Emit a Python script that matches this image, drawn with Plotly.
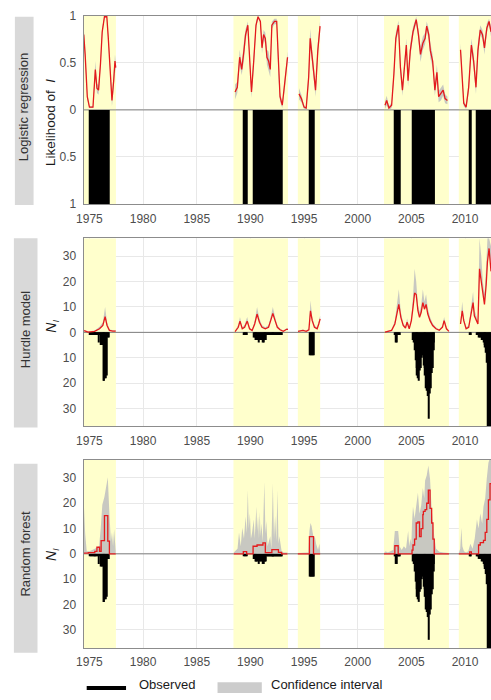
import plotly.graph_objects as go

# ---------------- data ----------------
period_start = [1974.0, 1988.42, 1994.42, 2002.45, 2009.42]
period_end = [1977.47, 1993.5, 1996.5, 2008.5, 2013.0]

# observed monthly counts, given as runs of consecutive months
obs_run_start = ["1975-01", "1989-05", "1990-04", "1995-07", "2003-06", "2005-02", "2010-06", "2011-02"]
obs_run_counts = [
    [1, 1, 1, 1, 1, 1, 1, 1, 1, 1, 4, 1, 5, 5, 5, 19, 19, 18, 18, 17, 2, 2],
    [1, 1, 1, 1],
    [2, 2, 3, 3, 3, 3, 4, 3, 3, 3, 4, 4, 3, 3, 3, 1, 1, 1, 1, 1, 1, 1, 1, 1, 1, 1, 1, 1, 1, 1, 1, 1],
    [9, 9, 9, 9, 9],
    [1, 4, 4, 1, 1, 1],
    [3, 4, 7, 11, 14, 17, 18, 19, 15, 14, 10, 9, 13, 14, 17, 22, 23, 25, 34, 24, 22, 16, 14, 7, 4],
    [1, 1],
    [1, 1, 2, 2, 2, 3, 3, 4, 5, 6, 8, 12, 40, 45, 38, 42, 40],
]

# logistic regression: likelihood of incidence and CI half-width
lr_t = [1974.47, 1974.6, 1974.8, 1975.0, 1975.33, 1975.48, 1975.55, 1975.7, 1975.85, 1976.03, 1976.19, 1976.4,
        1976.62, 1976.76, 1976.95, 1977.1, 1977.26, 1977.38, 1977.45,
        1988.57, 1988.78, 1989.0, 1989.19, 1989.4, 1989.55, 1989.76, 1989.92, 1990.1, 1990.31, 1990.52, 1990.71,
        1990.93, 1991.08, 1991.23, 1991.39, 1991.54, 1991.69, 1991.85, 1992.0, 1992.24, 1992.45, 1992.61, 1992.76,
        1992.97, 1993.22, 1993.46,
        1994.53, 1994.75, 1995.0, 1995.2, 1995.43, 1995.57, 1995.73, 1995.88, 1996.07, 1996.28, 1996.49,
        2002.54, 2002.7, 2002.91, 2003.16, 2003.37, 2003.55, 2003.8, 2003.98, 2004.17, 2004.38, 2004.53, 2004.69,
        2004.9, 2005.15, 2005.45, 2005.66, 2005.85, 2006.07, 2006.28, 2006.43, 2006.62, 2006.77, 2006.98, 2007.19,
        2007.38, 2007.54, 2007.75, 2007.96, 2008.14, 2008.36,
        2009.58, 2009.74, 2009.88, 2010.1, 2010.34, 2010.59, 2010.8, 2011.02, 2011.2, 2011.42, 2011.63, 2011.81,
        2012.03, 2012.24, 2012.42]
lr_p = [0.80, 0.59, 0.14, 0.03, 0.03, 0.24, 0.43, 0.23, 0.21, 0.49, 0.83, 0.99, 0.99, 0.76, 0.38, 0.10, 0.31, 0.52, 0.45,
        0.19, 0.24, 0.56, 0.43, 0.63, 0.80, 0.90, 0.59, 0.19, 0.52, 0.90, 0.99, 0.94, 0.66, 0.80, 0.76, 0.56, 0.52,
        0.43, 0.90, 0.94, 0.94, 0.42, 0.14, 0.05, 0.31, 0.56,
        0.17, 0.12, 0.03, 0.02, 0.35, 0.76, 0.59, 0.42, 0.21, 0.63, 0.89,
        0.05, 0.10, 0.02, 0.05, 0.38, 0.76, 0.90, 0.45, 0.21, 0.52, 0.69, 0.31, 0.63, 0.83, 0.96, 0.80, 0.59, 0.71,
        0.76, 0.89, 0.80, 0.63, 0.52, 0.21, 0.40, 0.14, 0.17, 0.21, 0.12, 0.10,
        0.64, 0.35, 0.07, 0.03, 0.24, 0.69, 0.52, 0.24, 0.63, 0.85, 0.80, 0.66, 0.87, 0.94, 0.83]
lr_ci = [0.08, 0.06, 0.03, 0.01, 0.01, 0.05, 0.09, 0.05, 0.05, 0.05, 0.04, 0.01, 0.01, 0.04, 0.05, 0.06, 0.08, 0.07, 0.06,
         0.08, 0.06, 0.08, 0.06, 0.10, 0.06, 0.04, 0.06, 0.06, 0.08, 0.04, 0.01, 0.02, 0.06, 0.05, 0.06, 0.08, 0.10,
         0.08, 0.04, 0.03, 0.03, 0.06, 0.05, 0.03, 0.08, 0.06,
         0.06, 0.04, 0.02, 0.01, 0.08, 0.10, 0.08, 0.06, 0.07, 0.08, 0.05,
         0.04, 0.05, 0.02, 0.03, 0.06, 0.06, 0.05, 0.07, 0.06, 0.07, 0.07, 0.06, 0.07, 0.05, 0.03, 0.06, 0.08, 0.07,
         0.06, 0.05, 0.06, 0.08, 0.07, 0.06, 0.08, 0.06, 0.07, 0.06, 0.05, 0.04,
         0.07, 0.06, 0.03, 0.02, 0.06, 0.07, 0.08, 0.07, 0.08, 0.05, 0.05, 0.07, 0.05, 0.03, 0.05]

# hurdle model: predicted N and upper confidence bound
hd_t = [1974.5, 1974.87, 1975.48, 1975.94, 1976.25, 1976.46, 1976.64, 1976.86, 1977.17, 1977.45,
        1988.57, 1988.87, 1989.03, 1989.24, 1989.46, 1989.7, 1989.92, 1990.16, 1990.4, 1990.62, 1990.84, 1991.08,
        1991.39, 1991.69, 1991.94, 1992.09, 1992.3, 1992.51, 1992.76, 1993.07, 1993.37, 1993.5,
        1994.44, 1994.9, 1995.2, 1995.45, 1995.6, 1995.76, 1995.97, 1996.22, 1996.37, 1996.5,
        2002.54, 2003.16, 2003.46, 2003.68, 2003.83, 2004.02, 2004.24, 2004.45, 2004.6, 2004.8, 2005.0, 2005.15,
        2005.3, 2005.45, 2005.61, 2005.76, 2005.91, 2006.07, 2006.22, 2006.37, 2006.53, 2006.74, 2006.98, 2007.29,
        2007.6, 2007.9, 2008.05, 2008.27, 2008.5,
        2009.58, 2009.74, 2009.88, 2010.1, 2010.34, 2010.56, 2010.75, 2010.87, 2011.05, 2011.2, 2011.35, 2011.51,
        2011.66, 2011.81, 2011.97, 2012.09, 2012.24, 2012.42]
hd_n = [0.7, 0.1, 0.4, 1.4, 2.7, 6.2, 2.7, 0.8, 0.5, 0.5,
        0.3, 2.0, 4.4, 1.4, 2.0, 4.4, 1.4, 0.7, 3.3, 7.2, 4.0, 2.0, 1.4, 2.0, 5.3, 7.4, 4.6, 2.0, 1.0, 0.4, 1.2, 1.2,
        0.4, 0.8, 0.4, 1.0, 8.5, 4.6, 2.0, 1.4, 3.3, 5.3,
        0.1, 0.8, 3.3, 8.5, 11.0, 5.9, 2.7, 1.7, 4.0, 1.4, 4.6, 9.7, 15.5, 14.9, 8.5, 5.9, 7.8, 11.7, 9.1, 11.0,
        7.2, 4.6, 2.7, 1.4, 0.8, 2.0, 4.6, 1.4, 0.4,
        3.3, 8.5, 4.6, 1.4, 2.0, 7.8, 11.7, 6.5, 4.6, 3.3, 25.0, 20.0, 14.9, 11.0, 18.7, 27.7, 33.0, 24.0]
hd_hi = [1.0, 0.3, 0.7, 2.2, 4.0, 10.0, 4.0, 1.2, 0.8, 0.8,
         0.5, 3.0, 6.0, 2.0, 3.0, 6.0, 2.0, 1.0, 4.5, 10.0, 5.5, 2.8, 2.0, 2.8, 7.0, 10.0, 6.0, 2.8, 1.5, 0.6, 1.6, 1.6,
         0.6, 1.1, 0.6, 1.5, 12.5, 6.0, 2.8, 2.0, 4.5, 6.5,
         0.2, 1.1, 4.5, 12.0, 17.0, 8.0, 3.6, 2.3, 5.5, 2.0, 6.0, 14.0, 25.0, 20.0, 11.0, 8.0, 10.5, 17.0, 12.0, 15.0,
         9.5, 6.0, 3.6, 2.0, 1.1, 2.8, 6.0, 2.0, 0.6,
         4.5, 12.0, 6.0, 2.0, 2.8, 10.5, 16.0, 9.0, 6.0, 4.5, 37.0, 30.0, 20.0, 15.0, 26.0, 37.0, 37.0, 34.0]

# random forest: predicted N (step) and upper confidence bound
rf_t = [1974.47, 1974.9, 1975.5, 1975.7, 1975.94, 1976.09, 1976.4, 1976.71, 1976.86, 1977.45,
        1988.45, 1989.34, 1989.65, 1990.25, 1990.62, 1991.17, 1991.39, 1991.69, 1992.0, 1992.61, 1992.91, 1993.45,
        1994.42, 1995.5, 1995.88, 1996.5,
        2002.45, 2003.46, 2003.77, 2005.06, 2005.15, 2005.3, 2005.45, 2005.61, 2005.76, 2005.91, 2006.07, 2006.12,
        2006.28, 2006.43, 2006.58, 2006.74, 2006.89, 2007.01, 2007.13, 2008.5,
        2009.42, 2010.43, 2010.59, 2011.11, 2011.26, 2011.42, 2011.72, 2011.88, 2012.03, 2012.18, 2012.33, 2012.42]
rf_n = [0.3, 0.5, 1.0, 2.6, 1.0, 5.2, 15.1, 5.0, 0.0, 0.0,
        0.0, 0.9, 0.0, 3.0, 3.5, 4.3, 0.5, 0.5, 1.7, 0.6, 0.0, 0.0,
        0.0, 6.8, 0.0, 0.0,
        0.0, 3.2, 0.0, 1.5, 3.5, 5.8, 12.2, 12.6, 6.8, 10.0, 15.5, 16.8, 17.5, 20.0, 25.2, 18.0, 12.2, 5.8, 0.0, 0.0,
        0.0, 0.8, 0.0, 0.0, 3.5, 4.4, 5.3, 8.5, 13.6, 21.3, 27.8, 27.8]
rf_ci_t = [1974.47, 1974.6, 1974.75, 1975.0, 1975.5, 1975.9, 1976.05, 1976.2, 1976.4, 1976.55, 1976.71, 1976.86,
           1977.0, 1977.1, 1977.2, 1977.3, 1977.45,
           1988.45, 1988.8, 1988.94, 1989.1, 1989.24, 1989.4, 1989.55, 1989.65, 1989.76, 1989.85, 1989.95, 1990.05,
           1990.16, 1990.31, 1990.4, 1990.47, 1990.56, 1990.63, 1990.71, 1990.8, 1990.87, 1990.95, 1991.02, 1991.15,
           1991.3, 1991.4, 1991.48, 1991.6, 1991.69, 1991.85, 1991.95, 1992.09, 1992.2, 1992.3, 1992.42, 1992.52,
           1992.62, 1992.7, 1992.91, 1993.1, 1993.45,
           1994.42, 1995.4, 1995.5, 1995.6, 1995.7, 1995.8, 1995.9, 1996.0, 1996.12, 1996.3, 1996.43, 1996.5,
           2002.45, 2002.6, 2002.8, 2003.0, 2003.3, 2003.46, 2003.6, 2003.77, 2003.9, 2004.1, 2004.3, 2004.5, 2004.7,
           2004.8, 2004.9, 2005.0, 2005.06, 2005.15, 2005.3, 2005.45, 2005.61, 2005.76, 2005.91, 2006.07, 2006.2,
           2006.28, 2006.43, 2006.58, 2006.74, 2006.89, 2007.01, 2007.13, 2007.3, 2007.6, 2008.0, 2008.5,
           2009.42, 2009.55, 2009.66, 2009.75, 2009.9, 2010.1, 2010.3, 2010.5, 2010.7, 2010.9, 2011.11, 2011.26,
           2011.42, 2011.6, 2011.72, 2011.88, 2012.03, 2012.18, 2012.33, 2012.42]
rf_ci_hi = [20.6, 8.0, 1.0, 1.0, 2.0, 3.0, 10.0, 19.4, 22.6, 26.5, 30.3, 16.0, 5.0, 8.4, 3.0, 9.7, 1.0,
            0.5, 2.0, 8.4, 3.0, 10.3, 6.0, 14.8, 8.0, 25.2, 10.0, 16.0, 6.0, 8.4, 13.6, 6.0, 14.8, 18.7, 9.0, 14.8,
            6.0, 16.5, 7.0, 12.0, 5.0, 28.4, 8.0, 13.0, 3.0, 4.6, 7.0, 2.0, 27.8, 6.0, 15.0, 5.0, 25.2, 4.0, 7.0,
            1.0, 0.5, 0.5,
            0.3, 0.5, 9.0, 12.2, 11.0, 8.0, 6.0, 7.0, 4.0, 1.5, 4.0, 0.5,
            0.3, 1.0, 0.5, 0.8, 1.5, 9.0, 9.0, 9.0, 3.0, 1.5, 3.0, 2.0, 9.0, 3.0, 6.0, 4.0, 12.0, 18.7, 14.0, 20.3,
            24.2, 16.0, 19.0, 26.0, 22.0, 29.0, 31.0, 34.9, 29.6, 18.0, 12.0, 7.0, 2.0, 0.8, 0.5, 0.3,
            0.3, 2.0, 10.3, 3.0, 1.0, 0.5, 1.0, 4.0, 2.0, 6.0, 13.6, 10.0, 16.0, 12.0, 18.7, 22.0, 30.0, 36.0, 38.0, 38.0]

panel_titles = ["Logistic regression", "Hurdle model", "Random forest"]
x_ticks = [1975, 1980, 1985, 1990, 1995, 2000, 2005, 2010]

# ---------------- helpers ----------------
W, H = 491, 700
FONT = "Liberation Sans, Arial, sans-serif"
RED = "#e41a1c"
GREY = "rgba(190,190,190,0.85)"
YELLOW = "#ffffcc"
X_RANGE = [1974.47, 2012.42]
BAR_W = 0.095


def px(x):
    return x / W


def py(y):
    return 1 - y / H


def by_period(t, *cols):
    out = []
    for s, e in zip(period_start, period_end):
        idx = [i for i, v in enumerate(t) if s - 0.05 <= v <= e + 0.05]
        if idx:
            out.append(([t[i] for i in idx],) + tuple([c[i] for i in idx] for c in cols))
    return out


obs_x, obs_y = [], []
for start, counts in zip(obs_run_start, obs_run_counts):
    yr, mo = int(start[:4]), int(start[5:])
    for k, c in enumerate(counts):
        m = mo - 1 + k
        obs_x.append(yr + m // 12 + (m % 12) / 12 + 1 / 24)
        obs_y.append(c)

fig = go.Figure()
bar_marker = dict(color="black", line=dict(width=0))

# ---- panel 1 ----
for t, p, ci in by_period(lr_t, lr_p, lr_ci):
    lo = [max(0, a - b) for a, b in zip(p, ci)]
    hi = [min(1, a + b) for a, b in zip(p, ci)]
    fig.add_trace(go.Scatter(x=t, y=lo, mode="lines", line=dict(width=0), xaxis="x", yaxis="y",
                             showlegend=False, hoverinfo="skip"))
    fig.add_trace(go.Scatter(x=t, y=hi, mode="lines", line=dict(width=0), fill="tonexty", fillcolor=GREY,
                             xaxis="x", yaxis="y", showlegend=False, hoverinfo="skip"))
fig.add_trace(go.Bar(x=obs_x, y=[-1 if v > 0 else 0 for v in obs_y], width=BAR_W, marker=bar_marker,
                     xaxis="x", yaxis="y", showlegend=False))
for t, p, ci in by_period(lr_t, lr_p, lr_ci):
    fig.add_trace(go.Scatter(x=t, y=p, mode="lines", line=dict(color=RED, width=1.3), xaxis="x", yaxis="y",
                             showlegend=False))

# ---- panel 2 ----
for t, n, hi in by_period(hd_t, hd_n, hd_hi):
    fig.add_trace(go.Scatter(x=t, y=n, mode="lines", line=dict(width=0), xaxis="x2", yaxis="y2",
                             showlegend=False, hoverinfo="skip"))
    fig.add_trace(go.Scatter(x=t, y=hi, mode="lines", line=dict(width=0), fill="tonexty", fillcolor=GREY,
                             xaxis="x2", yaxis="y2", showlegend=False, hoverinfo="skip"))
fig.add_trace(go.Bar(x=obs_x, y=[-v for v in obs_y], width=BAR_W, marker=bar_marker,
                     xaxis="x2", yaxis="y2", showlegend=False))
for t, n, hi in by_period(hd_t, hd_n, hd_hi):
    fig.add_trace(go.Scatter(x=t, y=n, mode="lines", line=dict(color=RED, width=1.3), xaxis="x2", yaxis="y2",
                             showlegend=False))

# ---- panel 3 ----
for t, hi in by_period(rf_ci_t, rf_ci_hi):
    fig.add_trace(go.Scatter(x=t, y=hi, mode="lines", line=dict(width=0), fill="tozeroy", fillcolor=GREY,
                             xaxis="x3", yaxis="y3", showlegend=False, hoverinfo="skip"))
fig.add_trace(go.Bar(x=obs_x, y=[-v for v in obs_y], width=BAR_W, marker=bar_marker,
                     xaxis="x3", yaxis="y3", showlegend=False))
for t, n in by_period(rf_t, rf_n):
    fig.add_trace(go.Scatter(x=t, y=n, mode="lines", line=dict(color=RED, width=1.3, shape="hv"),
                             xaxis="x3", yaxis="y3", showlegend=False))

# ---------------- layout ----------------
panels = [(9, 201, [-1, 1], [-1, -0.5, 0, 0.5, 1], ["1", "0.5", "0", "0.5", "1"]),
          (236, 428, [-37, 37], [-30, -20, -10, 0, 10, 20, 30], ["30", "20", "10", "0", "10", "20", "30"]),
          (462, 654, [-37.2, 37.2], [-30, -20, -10, 0, 10, 20, 30], ["30", "20", "10", "0", "10", "20", "30"])]

layout = dict(width=W, height=H, margin=dict(l=0, r=0, t=0, b=0), plot_bgcolor="white", paper_bgcolor="white",
              barmode="overlay", showlegend=False, font=dict(family=FONT, color="#4d4d4d", size=12))
shapes, annotations = [], []
for k, (top, bot, yr, tv, tt) in enumerate(panels):
    sfx = "" if k == 0 else str(k + 1)
    layout["xaxis" + sfx] = dict(domain=[px(77), 1], anchor="y" + sfx, range=X_RANGE,
                                 tickvals=x_ticks, showgrid=True, gridcolor="#e8e8e8", gridwidth=1,
                                 showline=True, linecolor="#8c8c8c", linewidth=1.3, mirror=True,
                                 zeroline=False, ticks="outside", ticklen=3, tickcolor="rgba(0,0,0,0)",
                                 tickfont=dict(size=12, color="#4d4d4d"))
    layout["yaxis" + sfx] = dict(domain=[py(bot), py(top)], anchor="x" + sfx, range=yr, tickvals=tv,
                                 ticktext=tt, showgrid=True, gridcolor="#e8e8e8", gridwidth=1,
                                 showline=True, linecolor="#8c8c8c", linewidth=1.3, mirror=False,
                                 zeroline=False, ticks="outside", ticklen=4, tickcolor="rgba(0,0,0,0)",
                                 tickfont=dict(size=12, color="#4d4d4d"))
    for s, e in zip(period_start, period_end):
        shapes.append(dict(type="rect", xref="x" + sfx, yref="y" + sfx, x0=s, x1=e, y0=yr[0], y1=yr[1],
                           fillcolor=YELLOW, line=dict(width=0), layer="between"))
    shapes.append(dict(type="line", xref="x" + sfx, yref="y" + sfx, x0=X_RANGE[0], x1=X_RANGE[1], y0=0, y1=0,
                       line=dict(color="#7f7f7f", width=1), layer="between"))

# strip boxes
strips = [(7, 26, 10, 202, 16.5, 102), (6, 30, 236, 429, 18, 329), (6, 30, 466, 659, 18, 558)]
for (x0, x1, y0, y1, tx, ty), title in zip(strips, panel_titles):
    shapes.append(dict(type="rect", xref="paper", yref="paper", x0=px(x0), x1=px(x1), y0=py(y1), y1=py(y0),
                       fillcolor="#d9d9d9", line=dict(width=0), layer="below"))
    annotations.append(dict(x=px(tx), y=py(ty), xref="paper", yref="paper", text=title, showarrow=False,
                            textangle=-90, font=dict(size=13, color="#333333", family=FONT),
                            xanchor="center", yanchor="middle"))

# y axis titles
annotations.append(dict(x=px(43), y=py(118), xref="paper", yref="paper", text="Likelihood of  <i>I</i>",
                        showarrow=False, textangle=-90, font=dict(size=13.5, color="#1a1a1a", family=FONT),
                        xanchor="center", yanchor="middle"))
for yy in (326, 559):
    annotations.append(dict(x=px(45), y=py(yy), xref="paper", yref="paper", text="<i>N</i><sub><i>I</i></sub>",
                            showarrow=False, textangle=-90, font=dict(size=14, color="#1a1a1a", family=FONT),
                            xanchor="center", yanchor="middle"))

# bottom legend
shapes.append(dict(type="line", xref="paper", yref="paper", x0=px(80), x1=px(120), y0=py(695), y1=py(695),
                   line=dict(color="black", width=4)))
shapes.append(dict(type="rect", xref="paper", yref="paper", x0=px(213), x1=px(258), y0=py(700), y1=py(689),
                   fillcolor="#cccccc", line=dict(width=0)))
annotations.append(dict(x=px(132), y=0, xref="paper", yref="paper", text="Observed", showarrow=False,
                        font=dict(size=13, color="#1a1a1a", family=FONT), xanchor="left", yanchor="bottom",
                        borderpad=0))
annotations.append(dict(x=px(266), y=0, xref="paper", yref="paper", text="Confidence interval",
                        showarrow=False, font=dict(size=13, color="#1a1a1a", family=FONT),
                        xanchor="left", yanchor="bottom", borderpad=0))

layout["shapes"] = shapes
layout["annotations"] = annotations
fig.update_layout(**layout)
fig.write_html("out.html")
